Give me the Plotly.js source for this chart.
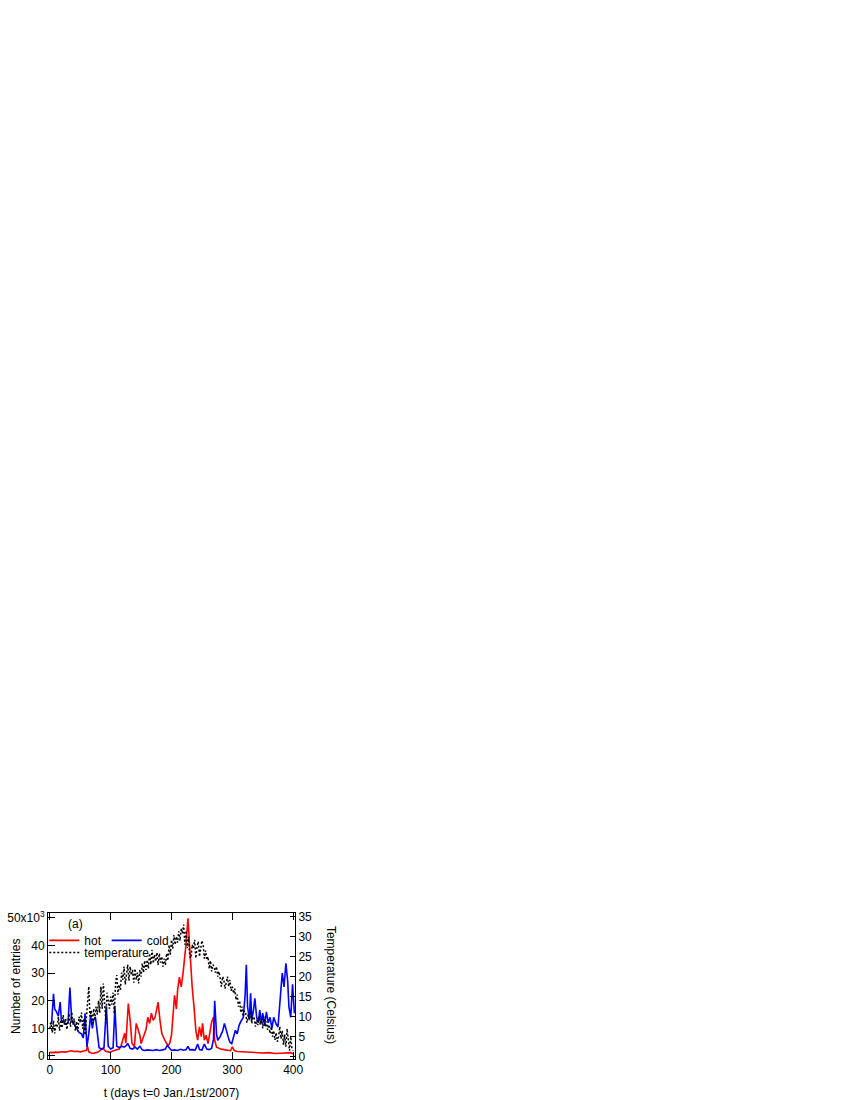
<!DOCTYPE html>
<html>
<head>
<meta charset="utf-8">
<script src="https://cdn.plot.ly/plotly-3.0.1.min.js"></script>
<style>
  html, body { margin: 0; padding: 0; background: #fff; }
  #chart { width: 850px; height: 1100px; }
</style>
</head>
<body>
<div id="chart"></div>
<script>
// number of "cold" entries (x10^3) vs day
var coldDays = [0, 3, 6, 8, 11, 14, 17, 19, 22, 26, 30, 33, 36, 40, 44, 48, 52, 55, 58, 61,
  64, 67, 70, 72, 75, 78, 81, 85, 89, 93, 96, 100, 104, 107, 110, 114, 118, 122, 126, 128,
  132, 136, 140, 144, 148, 152, 156, 160, 165, 170, 175, 180, 185, 190, 193, 196, 200, 205, 210, 215,
  220, 224, 227, 230, 235, 239, 243, 246, 250, 254, 258, 262, 266, 269, 271, 274, 276, 280, 284, 287,
  290, 293, 296, 299, 302, 305, 308, 311, 314, 318, 321, 323, 325, 328, 330, 332, 335, 337, 340, 343,
  345, 348, 350, 353, 356, 359, 362, 365, 368, 372, 375, 379, 382, 385, 388, 391, 393, 396, 399, 402];
var cold = [11.5, 12, 22.5, 17, 16, 14.5, 19.5, 13, 12.5, 11.5, 12, 24.8, 13, 11.5, 10, 8.5, 8, 6.5, 15.5, 3.3,
  8, 14.7, 10, 13, 14, 8, 3, 2.5, 3, 18, 3.5, 2.5, 3, 18, 3.5, 3, 3.5, 3.2, 3.8, 4.6,
  2.8, 2.5, 3.2, 2.5, 3.5, 2.2, 2, 2.2, 2, 2, 2.3, 2, 2.2, 2.5, 3.9, 3, 2, 2.2, 2, 2.4,
  2.1, 2.3, 3.5, 2.2, 2.3, 2.1, 4.3, 2.3, 2.1, 4.3, 2.5, 2.3, 2.8, 6, 20, 8, 5.7, 7, 9, 11.8,
  9, 7, 5, 4.5, 6.9, 9.3, 8, 11, 12.5, 14, 22, 33, 18, 13, 22.7, 13, 17, 20.9, 14, 12,
  16.6, 12, 15.5, 11, 16, 12, 14, 10, 14, 11.5, 10.5, 20, 30, 25, 33.6, 27, 17.8, 14, 26, 15.5];

// number of "hot" entries (x10^3) vs day
var hotDays = [0, 5, 10, 15, 20, 25, 30, 35, 40, 45, 50, 55, 60, 62, 64, 68, 72, 76, 80, 84,
  88, 91, 95, 99, 103, 106, 110, 114, 117, 120, 123, 125, 129, 132, 135, 139, 142, 145, 148, 150,
  155, 158, 161, 164, 167, 170, 173, 178, 181, 184, 189, 192, 195, 197, 200, 203, 205, 208, 210, 213,
  216, 219, 221, 224, 227, 230, 232, 234, 237, 240, 243, 246, 249, 251, 254, 257, 260, 263, 266, 269,
  271, 274, 278, 281, 286, 292, 297, 300, 303, 308, 315, 322, 330, 340, 350, 360, 370, 380, 390, 396, 400];
var hot = [1.3, 1.2, 1.4, 1.3, 1.5, 1.4, 1.6, 1.9, 1.6, 1.7, 1.5, 1.8, 2, 3.5, 1.5, 1.1, 1, 1.2, 1.5, 2.2,
  2.7, 1.8, 1.5, 1.3, 1.8, 2, 2, 2.5, 3.5, 5.7, 8.2, 4.6, 19, 13, 4.6, 3.3, 11.8, 9.7, 7.5, 4.5,
  7.3, 9.5, 14, 11.8, 15.5, 12.9, 14, 19.5, 13, 8.2, 5.7, 4.5, 3.9, 4.5, 7.5, 15.5, 22, 17, 23.8, 28.6,
  25, 30, 34, 40.8, 49.9, 38, 28.6, 25, 17.8, 9.3, 5.7, 10.5, 7, 11.8, 5.7, 7.5, 4.5, 9.3, 12.3, 14,
  5.7, 3.2, 2.8, 2.5, 2.3, 2, 1.9, 3.3, 2, 1.6, 1.5, 1.4, 1.3, 1.2, 1.1, 1.2, 0.9, 1, 1.1, 1.2, 0.8];

// temperature (Celsius), one reading every 2 days from day 0
var tempStartDay = 0;
var tempStepDays = 2;
var temp = [
  7.1, 8.5, 6.0, 9.0, 5.8, 8.0, 7.5, 10.0, 6.5, 9.2,
  7.2, 10.4, 8.0, 9.5, 6.8, 9.0, 10.8, 7.5, 11.2, 8.0,
  9.5, 6.5, 8.8, 6.3, 10.0, 8.5, 11.0, 7.0, 9.5, 5.4,
  9.5, 12.0, 17.5, 10.0, 11.5, 8.3, 12.0, 9.5, 12.5, 10.5,
  14.0, 11.0, 17.5, 12.0, 18.3, 13.3, 9.2, 16.0, 14.2, 12.0,
  15.0, 13.0, 16.0, 10.8, 18.3, 20.4, 15.5, 18.0, 16.7, 21.0,
  19.2, 22.5, 18.0, 20.0, 23.0, 19.0, 22.5, 20.4, 21.7, 18.5,
  22.0, 19.2, 21.0, 18.3, 21.7, 20.0, 23.3, 21.0, 24.0, 21.7,
  24.2, 22.0, 25.8, 23.0, 26.7, 23.3, 25.5, 23.8, 26.0, 22.9,
  25.8, 23.5, 25.0, 22.5, 24.5, 22.9, 25.8, 24.0, 27.9, 25.5,
  29.2, 27.0, 30.4, 28.0, 30.0, 28.5, 31.3, 29.0, 32.1, 30.8,
  33.0, 28.0, 31.5, 27.1, 30.0, 25.0, 24.6, 28.0, 27.1, 29.2,
  24.6, 27.5, 28.8, 25.0, 27.5, 29.0, 27.9, 24.5, 26.5, 24.2,
  25.0, 22.0, 24.0, 21.3, 23.0, 22.5, 21.0, 22.5, 20.0, 21.3,
  19.5, 17.5, 20.0, 19.2, 17.0, 18.3, 20.0, 17.5, 19.2, 16.5,
  17.5, 15.8, 17.0, 14.2, 15.5, 12.5, 14.0, 11.0, 12.5, 10.0,
  11.5, 10.8, 8.5, 10.5, 9.2, 11.3, 8.3, 10.0, 9.6, 7.5,
  9.2, 7.9, 10.0, 8.0, 9.5, 7.1, 10.0, 7.5, 8.8, 6.7,
  8.0, 5.8, 7.5, 5.0, 6.5, 4.2, 6.0, 3.75, 5.0, 7.5,
  4.5, 6.5, 3.0, 5.5, 2.5, 7.0, 4.0, 1.5, 5.0, 2.0,
  1.5];

var xTicks = [0, 100, 200, 300, 400];
var yTicks = [0, 10, 20, 30, 40, 50];
var yTickText = ['0', '10', '20', '30', '40', '50x10<sup>3</sup>'];
var y2Ticks = [0, 5, 10, 15, 20, 25, 30, 35];

var font = {family: 'Liberation Sans, Arial, sans-serif', size: 12, color: '#000'};

var traceHot = {
  x: hotDays, y: hot, name: 'hot', type: 'scatter', mode: 'lines',
  line: {color: 'rgb(255,0,0)', width: 1.6}, legend: 'legend'
};
var traceCold = {
  x: coldDays, y: cold, name: 'cold', type: 'scatter', mode: 'lines',
  line: {color: 'rgb(0,0,255)', width: 1.6}, legend: 'legend'
};
var traceTemp = {
  x0: tempStartDay, dx: tempStepDays, y: temp, name: 'temperature', type: 'scatter',
  mode: 'lines', yaxis: 'y2',
  line: {color: '#000', width: 1.5, dash: '2px,2px'}, legend: 'legend2'
};

var layout = {
  width: 850,
  height: 1100,
  margin: {l: 48, r: 555, t: 913, b: 41},
  paper_bgcolor: '#fff',
  plot_bgcolor: '#fff',
  font: font,
  showlegend: true,
  legend: {
    orientation: 'h', x: -0.015, xanchor: 'left', y: 0.912, yanchor: 'top',
    bgcolor: 'rgba(0,0,0,0)', borderwidth: 0, font: font, itemwidth: 30
  },
  legend2: {
    orientation: 'h', x: -0.015, xanchor: 'left', y: 0.828, yanchor: 'top',
    bgcolor: 'rgba(0,0,0,0)', borderwidth: 0, font: font, itemwidth: 30
  },
  xaxis: {
    range: [-3, 403], tickvals: xTicks, ticks: 'inside', ticklen: 7, tickcolor: '#000',
    showline: true, linecolor: '#000', linewidth: 1, mirror: 'ticks',
    showgrid: false, zeroline: false, tickfont: font,
    title: {text: 't (days t=0 Jan./1st/2007)', font: font, standoff: 12}
  },
  yaxis: {
    range: [-1.1, 51.8], tickvals: yTicks, ticktext: yTickText, ticks: 'inside', ticklen: 7,
    tickcolor: '#000', showline: true, linecolor: '#000', linewidth: 1,
    showgrid: false, zeroline: false, tickfont: font
  },
  yaxis2: {
    overlaying: 'y', side: 'right', range: [-0.57, 35.9], tickvals: y2Ticks, ticks: 'inside',
    ticklen: 5, tickcolor: '#000', showline: true, linecolor: '#000', linewidth: 1,
    showgrid: false, zeroline: false, tickfont: font
  },
  annotations: [
    {text: 'Number of entries', xref: 'paper', yref: 'paper', x: -0.13, y: 0.5,
      textangle: -90, showarrow: false, font: font, xanchor: 'center', yanchor: 'middle'},
    {text: 'Temperature (Celsius)', xref: 'paper', yref: 'paper', x: 1.146, y: 0.507,
      textangle: 90, showarrow: false, font: font, xanchor: 'center', yanchor: 'middle'},
    {text: '(a)', xref: 'paper', yref: 'paper', x: 0.11, y: 0.925,
      showarrow: false, font: font, xanchor: 'center', yanchor: 'middle'}
  ]
};

Plotly.newPlot('chart', [traceHot, traceCold, traceTemp], layout, {displayModeBar: false, staticPlot: true});
</script>
</body>
</html>
